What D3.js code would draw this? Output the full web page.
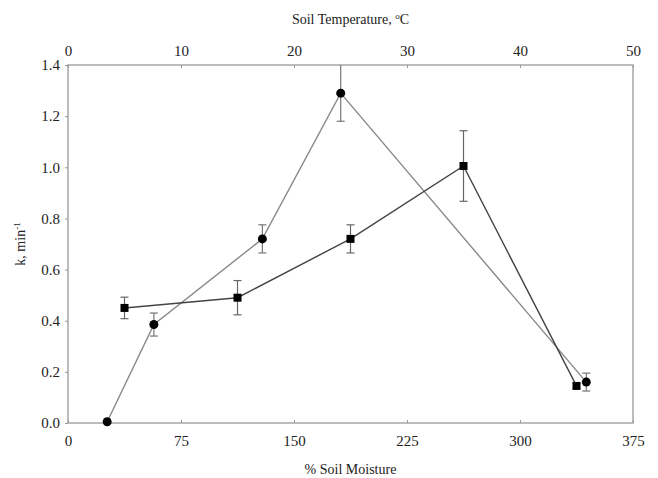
<!DOCTYPE html>
<html>
<head>
<meta charset="utf-8">
<script src="https://cdn.jsdelivr.net/npm/d3@7"></script>
<style>
  body { margin: 0; background: #fff; }
  text { font-family: "Liberation Serif", "Times New Roman", serif; fill: #222; }
</style>
</head>
<body>
<script>
// circles: k vs % soil moisture (bottom axis)
const moisture = [26, 57, 129, 181, 344];
const kMoisture = [0.005, 0.385, 0.72, 1.29, 0.16];
const errMoisture = [0, 0.045, 0.055, 0.11, 0.035];

// squares: k vs soil temperature (top axis)
const temperature = [5, 15, 25, 35, 45];
const kTemp = [0.45, 0.49, 0.72, 1.005, 0.145];
const errTemp = [0.042, 0.067, 0.055, 0.138, 0.01];

const moistureTicks = [0, 75, 150, 225, 300, 375];
const tempTicks = [0, 10, 20, 30, 40, 50];
const kTicks = [0, 0.2, 0.4, 0.6, 0.8, 1.0, 1.2, 1.4];

const chart = {
    width: 658,
    height: 478,
    margin: { top: 65, left: 68, bottom: 55, right: 25 }
};
const innerW = chart.width - chart.margin.left - chart.margin.right;
const innerH = chart.height - chart.margin.top - chart.margin.bottom;

let svg = d3.select("body")
    .append("svg")
    .attr("width", chart.width)
    .attr("height", chart.height);

let g = svg.append("g")
    .attr("transform", "translate(" + chart.margin.left + "," + chart.margin.top + ")");

const xMoist = d3.scaleLinear().domain([0, 375]).range([0, innerW]);
const xTemp = d3.scaleLinear().domain([0, 50]).range([0, innerW]);
const y = d3.scaleLinear().domain([0, 1.4]).range([innerH, 0]);

// frame
g.append("rect")
    .attr("width", innerW)
    .attr("height", innerH)
    .attr("fill", "none")
    .attr("stroke", "#999")
    .attr("stroke-width", 1.3);

function styleAxis(sel) {
    sel.select(".domain").remove();
    sel.selectAll(".tick line").attr("stroke", "#999");
    sel.selectAll(".tick text")
        .style("font-family", '"Liberation Serif", serif')
        .style("font-size", "15px")
        .attr("fill", "#222");
}

g.append("g")
    .attr("transform", "translate(0," + innerH + ")")
    .call(d3.axisBottom(xMoist).tickValues(moistureTicks).tickSizeInner(-3).tickSizeOuter(0).tickPadding(12))
    .call(styleAxis);

g.append("g")
    .call(d3.axisTop(xTemp).tickValues(tempTicks).tickSizeInner(-3).tickSizeOuter(0).tickPadding(9))
    .call(styleAxis);

g.append("g")
    .call(d3.axisLeft(y).tickValues(kTicks).tickFormat(d3.format(".1f")).tickSizeInner(3).tickSizeOuter(0).tickPadding(5))
    .call(styleAxis);

// axis titles
svg.append("text")
    .attr("x", chart.margin.left + innerW / 2)
    .attr("y", 474)
    .attr("text-anchor", "middle")
    .style("font-size", "14px")
    .text("% Soil Moisture");

let topTitle = svg.append("text")
    .attr("x", chart.margin.left + innerW / 2)
    .attr("y", 24)
    .attr("text-anchor", "middle")
    .style("font-size", "14px");
topTitle.append("tspan").text("Soil Temperature, ");
topTitle.append("tspan").attr("dy", -5).style("font-size", "9px").text("o");
topTitle.append("tspan").attr("dy", 5).text("C");

let yTitle = svg.append("text")
    .attr("transform", "translate(25," + (chart.margin.top + innerH / 2) + ") rotate(-90)")
    .attr("text-anchor", "middle")
    .style("font-size", "14px");
yTitle.append("tspan").text("k, min");
yTitle.append("tspan").attr("dy", -5).style("font-size", "9px").text("-1");

const moistData = moisture.map((m, i) => ({ x: xMoist(m), k: kMoisture[i], e: errMoisture[i] }));
const tempData = temperature.map((t, i) => ({ x: xTemp(t), k: kTemp[i], e: errTemp[i] }));

const line = d3.line().x(d => d.x).y(d => y(d.k));

let plot = g.append("g");

function errorBars(data, color) {
    let eb = plot.append("g").attr("stroke", color).attr("stroke-width", 1.2);
    data.filter(d => d.e > 0).forEach(d => {
        const top = Math.min(d.k + d.e, 1.4);
        const bot = d.k - d.e;
        eb.append("line").attr("x1", d.x).attr("x2", d.x).attr("y1", y(top)).attr("y2", y(bot));
        if (d.k + d.e < 1.4) {
            eb.append("line").attr("x1", d.x - 4).attr("x2", d.x + 4).attr("y1", y(top)).attr("y2", y(top));
        }
        eb.append("line").attr("x1", d.x - 4).attr("x2", d.x + 4).attr("y1", y(bot)).attr("y2", y(bot));
    });
}

errorBars(moistData, "#777");
errorBars(tempData, "#666");

plot.append("path")
    .datum(moistData)
    .attr("d", line)
    .attr("fill", "none")
    .attr("stroke", "#888")
    .attr("stroke-width", 1.4);

plot.append("path")
    .datum(tempData)
    .attr("d", line)
    .attr("fill", "none")
    .attr("stroke", "#444")
    .attr("stroke-width", 1.4);

plot.selectAll("circle.pt")
    .data(moistData)
    .enter()
    .append("circle")
    .attr("class", "pt")
    .attr("cx", d => d.x)
    .attr("cy", d => y(d.k))
    .attr("r", 4.5)
    .attr("fill", "#000");

plot.selectAll("rect.pt")
    .data(tempData)
    .enter()
    .append("rect")
    .attr("class", "pt")
    .attr("x", d => d.x - 4)
    .attr("y", d => y(d.k) - 4)
    .attr("width", 8)
    .attr("height", 8)
    .attr("fill", "#000");
</script>
</body>
</html>
